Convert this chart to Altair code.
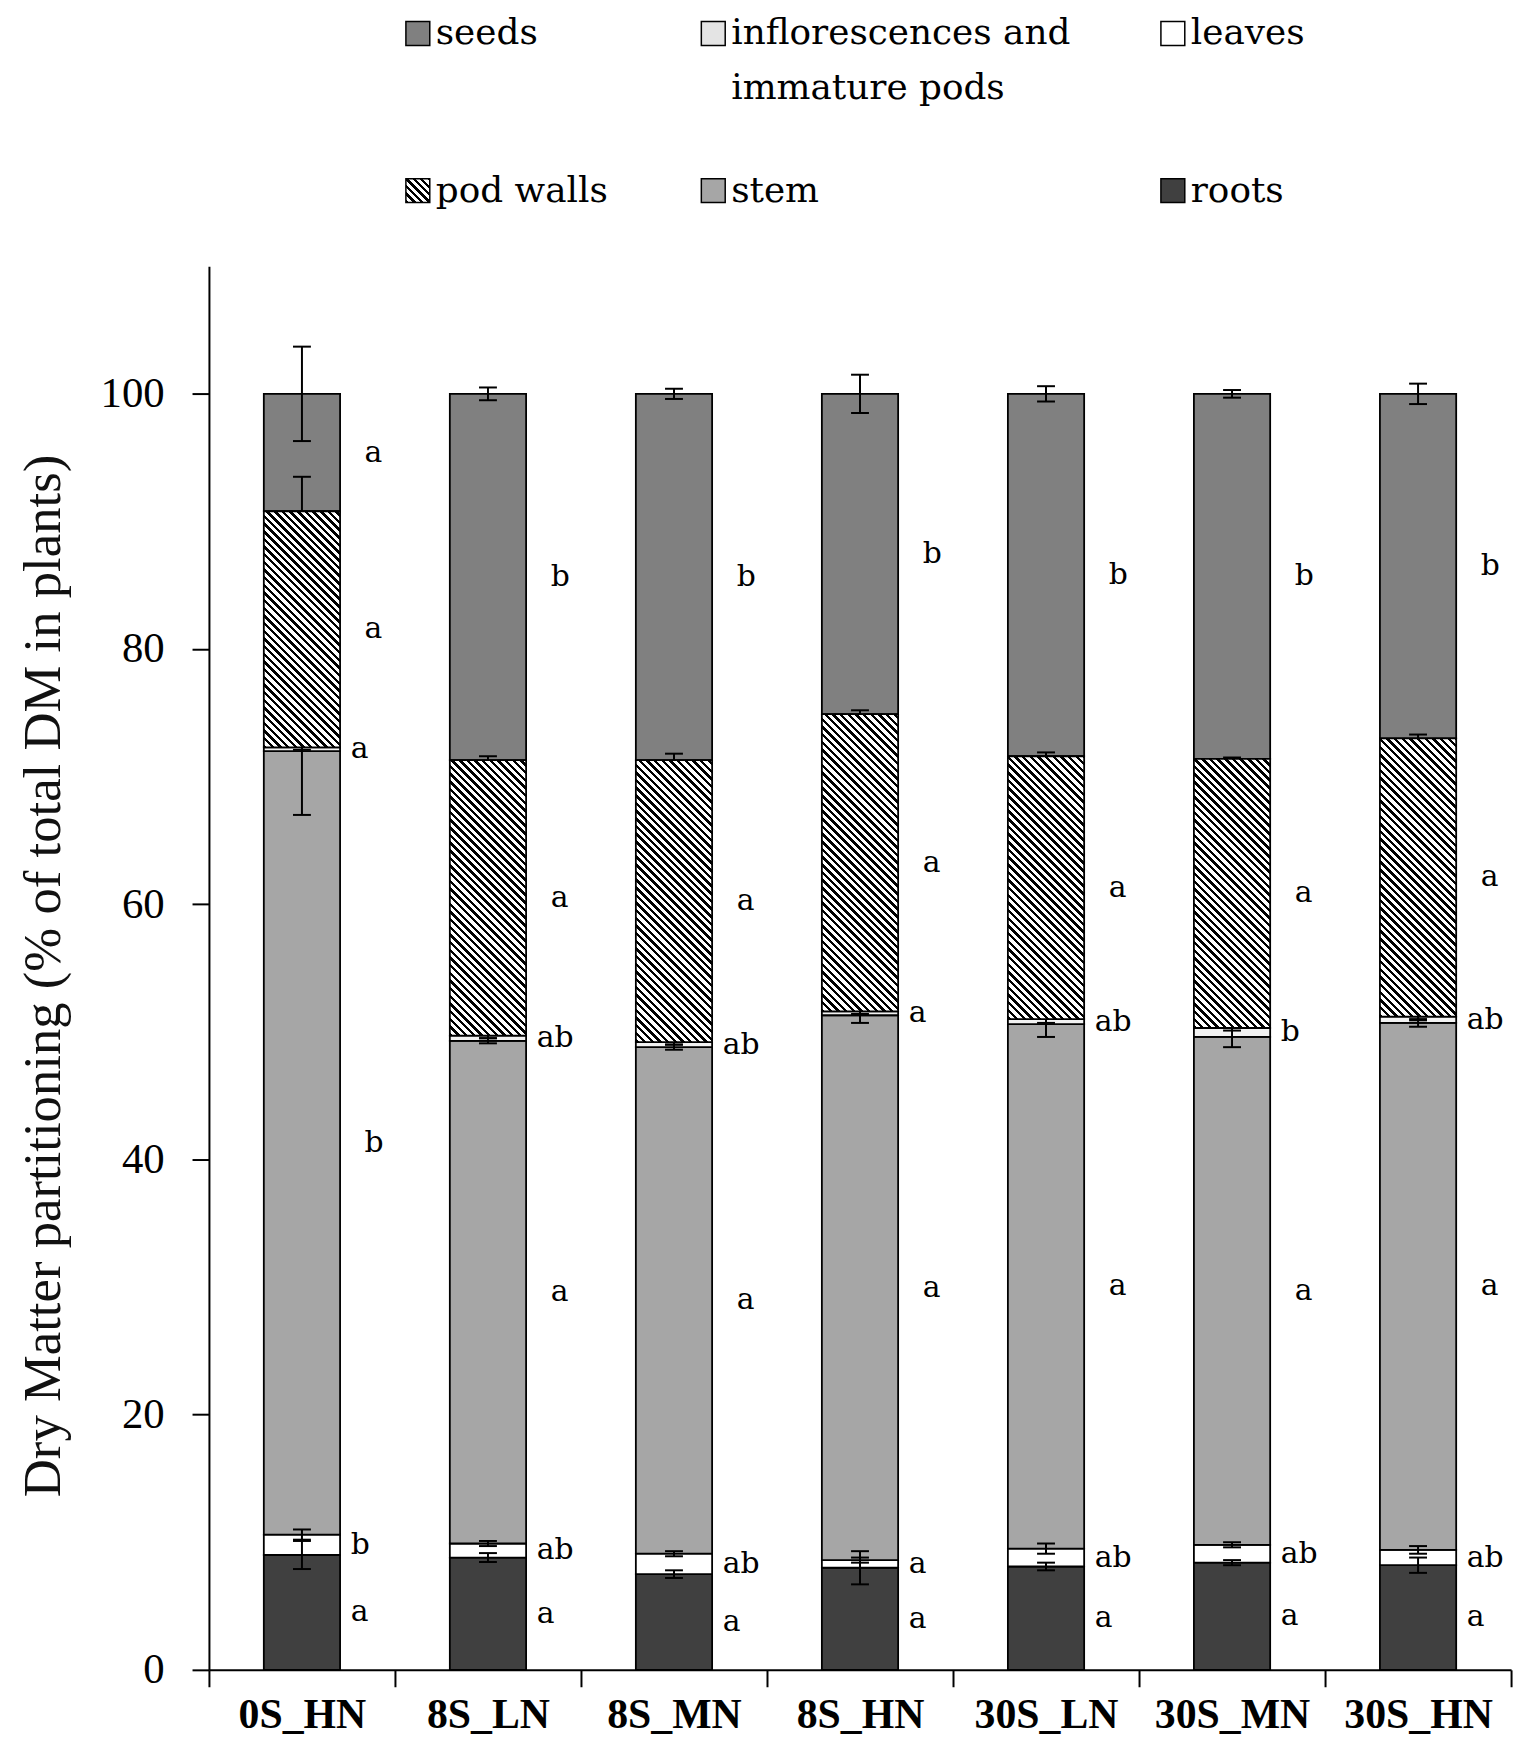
import altair as alt

# ---------------- data ----------------
treatments = ["0S_HN", "8S_LN", "8S_MN", "8S_HN", "30S_LN", "30S_MN", "30S_HN"]
# stacking order, bottom -> top
component_order = ["roots", "leaves", "stem", "inflorescences and immature pods", "pod walls", "seeds"]

roots = [9.0, 8.8, 7.5, 8.0, 8.1, 8.4, 8.2]
leaves = [1.6, 1.1, 1.6, 0.6, 1.4, 1.4, 1.2]
stem = [61.4, 39.4, 39.7, 42.7, 41.1, 39.8, 41.3]
infl = [0.3, 0.4, 0.4, 0.3, 0.4, 0.7, 0.5]
pod_walls = [18.5, 21.6, 22.1, 23.3, 20.6, 21.1, 21.8]
seeds = [9.2, 28.7, 28.7, 25.1, 28.4, 28.6, 27.0]

se_roots = [1.1, 0.35, 0.3, 1.3, 0.3, 0.2, 0.6]
se_leaves = [0.4, 0.2, 0.2, 0.2, 0.4, 0.2, 0.3]
se_stem = [5.0, 0.2, 0.2, 0.6, 1.0, 0.8, 0.3]
se_infl = [0.2, 0.2, 0.2, 0.2, 0.3, 0.2, 0.3]
se_pod = [2.7, 0.3, 0.5, 0.3, 0.3, 0.1, 0.3]
se_seeds = [3.7, 0.5, 0.4, 1.5, 0.6, 0.3, 0.8]

let_roots = ["a", "a", "a", "a", "a", "a", "a"]
let_leaves = ["b", "ab", "ab", "a", "ab", "ab", "ab"]
let_stem = ["b", "a", "a", "a", "a", "a", "a"]
let_infl = ["a", "ab", "ab", "a", "ab", "b", "ab"]
let_pod = ["a", "a", "a", "a", "a", "a", "a"]
let_seeds = ["a", "b", "b", "b", "b", "b", "b"]

legend_labels = ["seeds", "inflorescences and\nimmature pods", "leaves", "pod walls", "stem", "roots"]
legend_components = ["seeds", "inflorescences and immature pods", "leaves", "pod walls", "stem", "roots"]

# ---------------- styling / layout ----------------
W, H = 1309, 1411
YMAX = 110
BAND = 0.41
bar_w = W / len(treatments) * BAND
px_per_unit = H / YMAX

fills = {
    "roots": "#404040",
    "leaves": "#ffffff",
    "stem": "#a6a6a6",
    "inflorescences and immature pods": "#f2f2f2",
    "seeds": "#808080",
}


def hatch(w, h, period=7.7, frac=0.45):
    """Diagonal '\\' hatch as a linear gradient in bounding-box units."""
    c = (w + h) / (w * w + h * h)
    n = (w + h) / period
    stops = []
    k = 0
    while k < n:
        a = k / n
        b = min((k + frac) / n, 1.0)
        e = min((k + 1) / n, 1.0)
        stops += [
            {"offset": round(a, 5), "color": "black"},
            {"offset": round(b, 5), "color": "black"},
            {"offset": round(b, 5), "color": "white"},
            {"offset": round(e, 5), "color": "white"},
        ]
        k += 1
    return {"gradient": "linear", "x1": 0, "y1": 1, "x2": round(c * w, 5),
            "y2": round(1 - c * h, 5), "stops": stops}


values = {"roots": roots, "leaves": leaves, "stem": stem,
          "inflorescences and immature pods": infl, "pod walls": pod_walls, "seeds": seeds}
errors = {"roots": se_roots, "leaves": se_leaves, "stem": se_stem,
          "inflorescences and immature pods": se_infl, "pod walls": se_pod, "seeds": se_seeds}
letters = {"roots": let_roots, "leaves": let_leaves, "stem": let_stem,
           "inflorescences and immature pods": let_infl, "pod walls": let_pod, "seeds": let_seeds}
big = {"stem", "pod walls", "seeds"}

records = []
for i, t in enumerate(treatments):
    base = 0.0
    for comp in component_order:
        v = values[comp][i]
        top = base + v
        e = errors[comp][i]
        records.append({
            "treatment": t,
            "component": comp,
            "y0": round(base, 3),
            "y1": round(top, 3),
            "mid": round((base + top) / 2, 3),
            "elo": round(top - e, 3),
            "ehi": round(top + e, 3),
            "letter": letters[comp][i],
            "big": comp in big,
            "fill": hatch(bar_w, v * px_per_unit) if comp == "pod walls" else fills[comp],
        })
        base = top

legend_records = []
for j, (lab, comp) in enumerate(zip(legend_labels, legend_components)):
    legend_records.append({
        "label": lab,
        "col": j % 3,
        "row": j // 3,
        "fill": hatch(24, 24, period=7.5) if comp == "pod walls" else
        ("#e4e4e4" if comp.startswith("infl") else fills[comp]),
    })

src = alt.Data(values=records)

x_axis = alt.Axis(
    title=None, labelAngle=0, tickBand="extent", tickSize=17, tickWidth=2,
    tickColor="black", domainColor="black", domainWidth=2,
    labelFont="Liberation Serif", labelFontWeight="bold", labelFontSize=42,
    labelColor="black", labelPadding=8, grid=False,
)
y_axis = alt.Axis(
    values=[0, 20, 40, 60, 80, 100], tickSize=17, tickWidth=2, tickColor="black",
    domainColor="black", domainWidth=2, labelFont="Liberation Serif",
    labelFontSize=43, labelColor="black", labelPadding=28, grid=False,
    title="Dry Matter partitioning  (% of total DM in plants)",
    titleFont="Liberation Serif", titleFontSize=53, titleFontWeight="normal",
    titleColor="#111111", titleAngle=270, titleX=-166, titleY=713,
    titleAlign="center", titleBaseline="middle",
)
x_scale = alt.Scale(paddingInner=0, paddingOuter=0)
y_scale = alt.Scale(domain=[0, YMAX], nice=False)


def X():
    return alt.X("treatment:N", sort=treatments, scale=x_scale, axis=x_axis)


def Y(field):
    return alt.Y(f"{field}:Q", scale=y_scale, axis=y_axis)


bars = alt.Chart(src).transform_filter("datum.component != 'pod walls'").mark_bar(
    width=alt.RelativeBandSize(BAND), stroke="black", strokeWidth=1.8
).encode(x=X(), y=Y("y0"), y2=alt.Y2("y1"), fill=alt.Fill("fill:N", scale=None))

err_rule = alt.Chart(src).mark_rule(color="black", strokeWidth=2).encode(
    x=X(), y=Y("elo"), y2=alt.Y2("ehi"))
cap_lo = alt.Chart(src).mark_tick(color="black", size=18, thickness=2, opacity=1).encode(
    x=X(), y=Y("elo"))
cap_hi = alt.Chart(src).mark_tick(color="black", size=18, thickness=2, opacity=1).encode(
    x=X(), y=Y("ehi"))

pods = alt.Chart(src).transform_filter("datum.component == 'pod walls'").mark_bar(
    width=alt.RelativeBandSize(BAND), stroke="black", strokeWidth=1.8
).encode(x=X(), y=Y("y0"), y2=alt.Y2("y1"), fill=alt.Fill("fill:N", scale=None))

letters_big = alt.Chart(src).transform_filter("datum.big").mark_text(
    align="left", baseline="middle", dx=63, font="DejaVu Serif", fontSize=30, color="black"
).encode(x=X(), y=Y("mid"), text="letter:N")
letters_small = alt.Chart(src).transform_filter("!datum.big").mark_text(
    align="left", baseline="middle", dx=49, font="DejaVu Serif", fontSize=30, color="black"
).encode(x=X(), y=Y("mid"), text="letter:N")

main = alt.layer(bars, err_rule, cap_lo, cap_hi, pods, letters_big, letters_small)

lsrc = alt.Data(values=legend_records)
lx = alt.X("col:Q", scale=alt.Scale(domain=[0, 1, 2], range=[210, 507, 969], nice=False, zero=False), axis=None)
ly = alt.Y("row:Q", scale=alt.Scale(domain=[0, 1], range=[-234, -76], nice=False, zero=False), axis=None)

legend_sym = alt.Chart(lsrc).mark_point(
    shape="square", size=576, filled=True, stroke="black", strokeWidth=1.5, opacity=1
).encode(x=lx, y=ly, fill=alt.Fill("fill:N", scale=None))
legend_txt = alt.Chart(lsrc).mark_text(
    align="left", baseline="alphabetic", dx=18, dy=11, font="DejaVu Serif", fontSize=36,
    lineBreak="\n", lineHeight=55, color="black"
).encode(x=lx, y=ly, text="label:N")

legend = alt.layer(legend_sym, legend_txt)

chart = alt.layer(main, legend).resolve_scale(x="independent", y="independent").properties(
    width=W, height=H,
    autosize=alt.AutoSizeParams(type="none"),
    padding={"left": 202, "top": 255, "right": 12, "bottom": 83},
    background="white",
).configure_view(strokeWidth=0)

chart.save("out.html", embed_options={"renderer": "svg", "actions": False})
